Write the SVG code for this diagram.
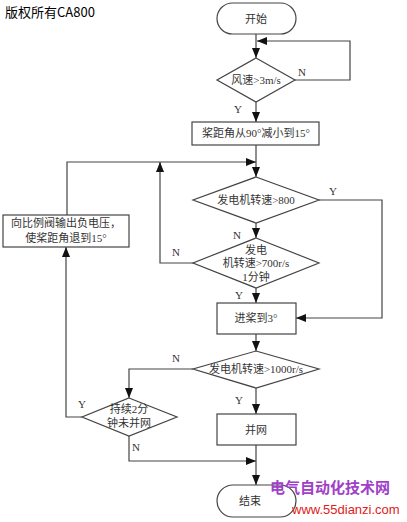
<svg xmlns="http://www.w3.org/2000/svg" width="407" height="522" viewBox="0 0 407 522">
<defs>
<marker id="ah" markerUnits="userSpaceOnUse" markerWidth="10" markerHeight="8" refX="10" refY="4" orient="auto">
<path d="M0,0 L10,4 L0,8 z" fill="#111"/>
</marker>
<style>
.s{fill:#fff;stroke:#444;stroke-width:1.2}
.t{font-family:"Liberation Serif","Noto Sans CJK SC",serif;font-size:11px;fill:#333;text-anchor:middle}
.l{font-family:"Liberation Serif","Noto Sans CJK SC",serif;font-size:11px;fill:#333;text-anchor:middle}
.c{fill:none;stroke:#444;stroke-width:1.2}
.a{fill:none;stroke:#444;stroke-width:1.2;marker-end:url(#ah)}
</style>
</defs>
<rect width="407" height="522" fill="#fff"/>
<text x="5" y="17" font-family="Noto Sans CJK SC,sans-serif" font-size="13" fill="#000">版权所有CA800</text>
<g id="connectors">
<path class="a" d="M256,34 V58"/>
<path class="a" d="M295,80 H350 V41 H257"/>
<path class="a" d="M256,102 V122"/>
<path class="a" d="M256,145 V177"/>
<path class="a" d="M67,215 V162 H256"/>
<path class="a" d="M193,263 H160 V162"/>
<path class="a" d="M256,223 V238"/>
<path class="a" d="M319,200 H382 V318 H296"/>
<path class="a" d="M256,288 V303"/>
<path class="a" d="M256,334 V351"/>
<path class="a" d="M193,369 H129 V398"/>
<path class="a" d="M256,388 V414"/>
<path class="a" d="M82,417 H66 V247"/>
<path class="a" d="M129,436 V461 H256"/>
<path class="a" d="M256,445 V485"/>
</g>
<g id="start"><rect class="s" x="217" y="3" width="79" height="31" rx="15.5"/><text class="t" x="256" y="23">开始</text></g>
<g id="d1"><path class="s" d="M256,58 L295,80 L256,102 L217,80 z"/><text class="t" x="256" y="84">风速&gt;3m/s</text></g>
<g id="b1"><rect class="s" x="192" y="122" width="127" height="23"/><text class="t" x="256" y="137">桨距角从90°减小到15°</text></g>
<g id="d2"><path class="s" d="M256,177 L319,200 L256,223 L193,200 z"/><text class="t" x="256" y="204">发电机转速&gt;800</text></g>
<g id="d3"><path class="s" d="M256,238 L319,263 L256,288 L193,263 z"/><text class="t" x="256" y="254">发电</text><text class="t" x="256" y="267">机转速&gt;700r/s</text><text class="t" x="256" y="281">1分钟</text></g>
<g id="left"><rect class="s" x="3" y="215" width="126" height="32"/><text class="t" x="66" y="227">向比例阀输出负电压，</text><text class="t" x="66" y="242">使桨距角退到15°</text></g>
<g id="b2"><rect class="s" x="217" y="303" width="79" height="31"/><text class="t" x="256" y="322">进桨到3°</text></g>
<g id="d4"><path class="s" d="M256,351 L319,369 L256,388 L193,369 z"/><text class="t" x="256" y="373">发电机转速&gt;1000r/s</text></g>
<g id="d5"><path class="s" d="M129,398 L177,417 L129,436 L82,417 z"/><text class="t" x="129" y="413">持续2分</text><text class="t" x="129" y="427">钟未并网</text></g>
<g id="b3"><rect class="s" x="217" y="414" width="79" height="31"/><text class="t" x="256" y="434">并网</text></g>
<g id="end"><rect class="s" x="217" y="485" width="79" height="32" rx="16"/><text class="t" x="250" y="505">结束</text></g>
<g id="labels">
<text class="l" x="302" y="76">N</text>
<text class="l" x="238" y="113">Y</text>
<text class="l" x="333" y="195">Y</text>
<text class="l" x="237" y="239">N</text>
<text class="l" x="176" y="256">N</text>
<text class="l" x="239" y="299">Y</text>
<text class="l" x="176" y="362">N</text>
<text class="l" x="239" y="404">Y</text>
<text class="l" x="82" y="408">Y</text>
<text class="l" x="136" y="451">N</text>
</g>
<g id="watermark">
<text x="270" y="493" font-family="Noto Sans CJK SC,sans-serif" font-size="15" font-weight="bold" fill="#a040c8">电气自动化技术网</text>
<text x="292" y="514" font-family="Liberation Sans,Arial,sans-serif" font-size="13" fill="#e0201a">www.55dianzi.com</text>
</g>
</svg>
